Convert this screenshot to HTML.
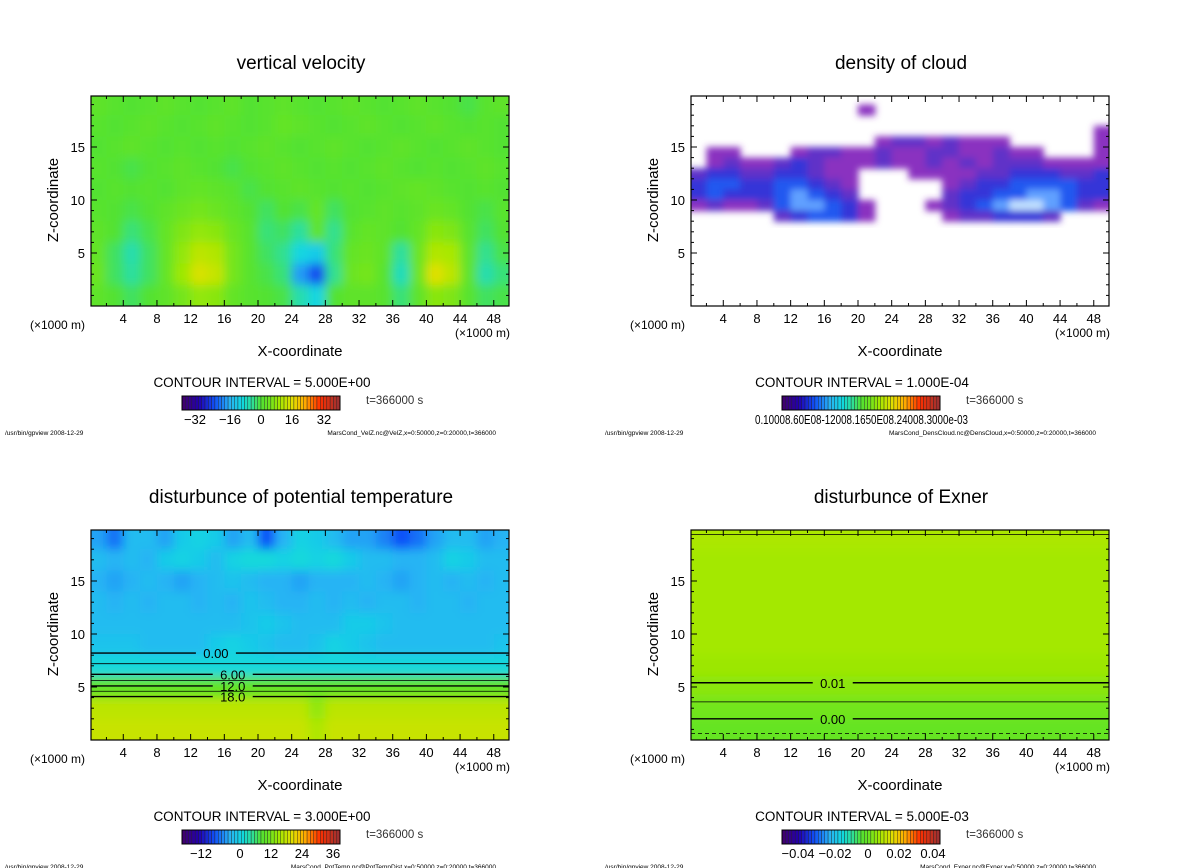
<!DOCTYPE html>
<html><head><meta charset="utf-8">
<style>
html,body{margin:0;padding:0;background:#fff;}
svg{display:block;font-family:"Liberation Sans",sans-serif;}
</style></head>
<body>
<svg id="page" width="1200" height="868" viewBox="0 0 1200 868" xmlns="http://www.w3.org/2000/svg">
<defs>
<filter id="blur6" x="-5%" y="-5%" width="110%" height="110%"><feGaussianBlur stdDeviation="5"/></filter>
<filter id="blur3" x="-5%" y="-5%" width="110%" height="110%"><feGaussianBlur stdDeviation="3.5"/></filter>
</defs>
</svg>
<script>
// ---------- data ----------
const xTickLabels = [4,8,12,16,20,24,28,32,36,40,44,48];
const zTickLabels = [5,10,15];
const titles = ["vertical velocity","density of cloud","disturbunce of potential temperature","disturbunce of Exner"];
const intervals = ["CONTOUR INTERVAL = 5.000E+00","CONTOUR INTERVAL = 1.000E-04","CONTOUR INTERVAL = 3.000E+00","CONTOUR INTERVAL = 5.000E-03"];
const footers = ["MarsCond_VelZ.nc@VelZ,x=0:50000,z=0:20000,t=366000","MarsCond_DensCloud.nc@DensCloud,x=0:50000,z=0:20000,t=366000","MarsCond_PotTemp.nc@PotTempDist,x=0:50000,z=0:20000,t=366000","MarsCond_Exner.nc@Exner,x=0:50000,z=0:20000,t=366000"];
const cbarLabelsVel = ["−32","−16","0","16","32"];
const cbarLabelsPT = ["−12","0","12","24","36"];
const cbarLabelsEx = ["−0.04","−0.02","0","0.02","0.04"];
const velRange = [-40,40];
const ptRange = [-20,40];
const exRange = [-0.05,0.05];

// vertical velocity (rows z=19..1, cols x=1..49)
const velZ = [
[2,1,0,1,2,1,0,1,2,0,1,2,1,0,1,2,1,0,1,2,1,0,-1,1,2],
[1,0,1,2,1,0,1,2,1,0,1,3,2,1,0,1,2,1,0,1,2,1,0,1,0],
[0,1,2,1,0,1,0,1,0,1,2,1,0,1,2,1,0,1,2,1,0,1,2,1,0],
[1,0,-1,0,1,2,1,0,-1,0,1,2,1,0,1,0,1,2,1,0,1,0,1,2,1],
[0,1,0,1,0,2,3,2,1,-1,0,1,2,1,0,1,0,1,2,3,2,1,0,1,0],
[1,0,-1,0,2,4,5,4,2,0,-2,0,-1,3,-2,0,1,2,1,2,4,3,0,-1,1],
[2,0,-3,-1,3,6,8,7,4,1,-3,-2,-5,2,-4,1,3,2,0,3,7,6,1,-2,0],
[3,-2,-6,-2,3,8,12,11,5,1,-2,-4,-10,-12,-3,3,4,2,-5,4,11,10,2,-4,-1],
[4,-2,-5,-2,3,9,15,13,5,1,-1,-3,-18,-25,-4,4,5,1,-7,4,16,12,2,-6,-3],
[2,0,-2,0,2,5,8,7,3,1,0,-1,-6,-10,0,2,2,1,-3,2,7,6,1,-2,-1]
];
// cloud density, units 1e-4 (rows z=19.5..0.5)
const cloud = [
[0,0,0,0,0,0,0,0,0,0,0,0,0,0,0,0,0,0,0,0,0,0,0,0,0],
[0,0,0,0,0,0,0,0,0,0,1,0,0,0,0,0,0,0,0,0,0,0,0,0,0],
[0,0,0,0,0,0,0,0,0,0,0,0,0,0,0,0,0,0,0,0,0,0,0,0,0],
[0,0,0,0,0,0,0,0,0,0,0,0,0,0,0,0,0,0,0,0,0,0,0,0,1],
[0,0,0,0,0,0,0,0,0,0,0,1,2,2,1,2,1,1,1,0,0,0,0,0,1],
[0,1,1,0,0,0,1,2,2,1,1,2,1,1,2,2,1,1,2,1,1,0,0,0,1],
[0,1,2,1,1,2,3,2,1,1,1,2,1,1,2,1,2,1,2,2,2,1,1,1,1],
[2,3,3,2,2,3,3,2,1,1,0,0,0,1,1,1,1,2,2,3,3,3,2,2,3],
[3,4,4,3,3,4,4,3,2,1,0,0,0,0,0,1,2,3,3,4,4,4,4,3,3],
[3,4,3,3,3,4,5,4,3,2,0,0,0,0,0,2,3,3,4,4,5,5,4,3,3],
[1,2,1,1,2,4,5,5,4,3,1,0,0,0,1,2,3,4,5,6,6,5,4,2,1],
[0,0,0,0,0,2,3,4,4,3,1,0,0,0,0,1,2,2,3,3,3,2,0,0,0],
[0,0,0,0,0,0,0,0,0,0,0,0,0,0,0,0,0,0,0,0,0,0,0,0,0],
[0,0,0,0,0,0,0,0,0,0,0,0,0,0,0,0,0,0,0,0,0,0,0,0,0],
[0,0,0,0,0,0,0,0,0,0,0,0,0,0,0,0,0,0,0,0,0,0,0,0,0],
[0,0,0,0,0,0,0,0,0,0,0,0,0,0,0,0,0,0,0,0,0,0,0,0,0],
[0,0,0,0,0,0,0,0,0,0,0,0,0,0,0,0,0,0,0,0,0,0,0,0,0],
[0,0,0,0,0,0,0,0,0,0,0,0,0,0,0,0,0,0,0,0,0,0,0,0,0],
[0,0,0,0,0,0,0,0,0,0,0,0,0,0,0,0,0,0,0,0,0,0,0,0,0],
[0,0,0,0,0,0,0,0,0,0,0,0,0,0,0,0,0,0,0,0,0,0,0,0,0]
];
// potential temperature disturbance (rows z=19..1)
const potT = [
[-3,-6,-1,-1,-3,1,2,1,-3,-1,-8,-2,2,1,-1,-3,-3,-5,-8,-6,-3,-1,-1,-3,-2],
[-1,-2,-1,-2,1,2,1,-1,2,3,3,2,3,2,3,1,-1,-1,-2,-2,-1,2,1,-1,-1],
[-2,-3,-2,-1,-2,-3,-2,-1,0,-1,-2,-2,-3,-2,-2,-2,-1,-2,-3,-2,-1,-2,-1,-2,-1],
[-1,-2,-1,-2,-1,-1,-2,-1,-2,0,-1,-2,-2,-1,-2,-1,-2,-1,-1,-2,-1,-1,-2,-1,-1],
[-1,-1,-1,-1,-1,-1,-1,-1,-1,0,1,0,-1,-1,-1,1,1,0,-1,-1,-1,-1,-1,-1,-1],
[0,0,0,-1,-1,-1,-1,1,2,1,0,-1,-1,0,2,1,0,-1,-1,-1,-1,-1,-1,-1,0],
[3,3,3,3,3,3,3,3,3,3,3,3,3,3,3,3,3,3,3,3,3,3,3,3,3],
[12,12,12,12,12,12,12,12,12,12,12,12,12,12,12,12,12,12,12,12,12,12,12,12,12],
[19,19,19,19,19,19,19,19,19,19,19,19,19,16,19,19,19,19,19,19,19,19,19,19,19],
[20,20,20,20,20,20,20,20,20,20,20,20,20,18,20,20,20,20,20,20,20,20,20,20,20]
];
// Exner disturbance (rows z=19..1)
const exner = [
[0.013,0.013,0.013,0.013,0.013,0.013,0.013,0.013,0.013,0.013,0.013,0.013,0.013,0.013,0.013,0.013,0.013,0.013,0.013,0.013,0.013,0.013,0.013,0.013,0.013],
[0.012,0.012,0.012,0.012,0.012,0.012,0.012,0.012,0.012,0.012,0.012,0.012,0.012,0.012,0.012,0.012,0.012,0.012,0.012,0.012,0.012,0.012,0.012,0.012,0.012],
[0.012,0.012,0.012,0.012,0.012,0.012,0.012,0.012,0.012,0.012,0.012,0.012,0.012,0.012,0.012,0.012,0.012,0.012,0.012,0.012,0.012,0.012,0.012,0.012,0.012],
[0.012,0.012,0.012,0.012,0.012,0.012,0.012,0.012,0.012,0.012,0.012,0.012,0.012,0.012,0.012,0.012,0.012,0.012,0.012,0.012,0.012,0.012,0.012,0.012,0.012],
[0.012,0.012,0.012,0.012,0.012,0.012,0.012,0.012,0.012,0.012,0.012,0.012,0.012,0.012,0.012,0.012,0.012,0.012,0.012,0.012,0.012,0.012,0.012,0.012,0.012],
[0.012,0.012,0.012,0.012,0.012,0.012,0.012,0.012,0.012,0.012,0.012,0.012,0.012,0.012,0.012,0.012,0.012,0.012,0.012,0.012,0.012,0.012,0.012,0.012,0.012],
[0.011,0.011,0.011,0.011,0.011,0.011,0.011,0.011,0.011,0.011,0.011,0.011,0.011,0.011,0.011,0.011,0.011,0.011,0.011,0.011,0.011,0.011,0.011,0.011,0.011],
[0.009,0.009,0.009,0.009,0.009,0.009,0.009,0.009,0.009,0.009,0.009,0.009,0.009,0.009,0.009,0.009,0.009,0.009,0.009,0.009,0.009,0.009,0.009,0.009,0.009],
[0.006,0.006,0.006,0.006,0.006,0.006,0.006,0.006,0.006,0.006,0.006,0.006,0.006,0.006,0.006,0.006,0.006,0.006,0.006,0.006,0.006,0.006,0.006,0.006,0.006],
[0.004,0.004,0.004,0.004,0.004,0.004,0.004,0.004,0.004,0.004,0.004,0.004,0.004,0.004,0.004,0.004,0.004,0.004,0.004,0.004,0.004,0.004,0.004,0.004,0.004]
];
// contour heights (km) of horizontal contour lines, label x (km)
const ptContourZ = [8.2, 7.2, 6.2, 5.6, 5.1, 4.6, 4.1];
const ptContourLabels = ["0.00","","6.00","","12.0","","18.0"];
const ptLabelX = [15, 0, 17, 0, 17, 0, 17];
const exContourZ = [19.4, 5.4, 3.6, 2.0];
const exContourLabels = ["","0.01","","0.00"];
const exLabelX = [0, 17, 0, 17];
const exDashedZ = [0.6];

// ---------- helpers ----------
const NS="http://www.w3.org/2000/svg";
const svg=document.getElementById('page');
const X0=89.6, XS=8.42, ZS=10.6;
function sx(ox,x){return ox+X0+XS*x;}
function sz(oy,z){return oy+306-ZS*z;}
const stops=[[0,"#400070"],[0.1,"#2000b0"],[0.2,"#1050f8"],[0.3,"#28b4f4"],[0.38,"#10d8e0"],[0.45,"#30e090"],[0.5,"#52e232"],[0.55,"#6ae420"],[0.62,"#a4e800"],[0.7,"#e0e000"],[0.78,"#ffb000"],[0.88,"#ff3000"],[1,"#a03030"]];
function hx(h){return [parseInt(h.substr(1,2),16),parseInt(h.substr(3,2),16),parseInt(h.substr(5,2),16)];}
function cmap(t){t=Math.max(0,Math.min(1,t));for(let i=1;i<stops.length;i++){if(t<=stops[i][0]){const a=stops[i-1],b=stops[i];const f=(t-a[0])/(b[0]-a[0]);const ca=hx(a[1]),cb=hx(b[1]);return "rgb("+ca.map((v,k)=>Math.round(v+(cb[k]-v)*f)).join(",")+")";}}return stops[stops.length-1][1];}
const cloudColors=["#ffffff","#8a30c0","#6030c8","#3434d8","#2058f0","#60a0ff","#c0e0ff"];
function mk(tag,attrs,parent){const e=document.createElementNS(NS,tag);for(const k in attrs)e.setAttribute(k,attrs[k]);(parent||svg).appendChild(e);return e;}
function txt(s,attrs,parent){const e=mk('text',attrs,parent);e.textContent=s;return e;}

function heat(ox,oy,data,dz,colorFn,blurId,name,idx){
  const clip=mk('clipPath',{id:'clip'+idx});
  mk('rect',{x:ox+91,y:oy+96,width:418,height:210},clip);
  const outer=mk('g',{'clip-path':'url(#clip'+idx+')'});
  
  
  const inner=mk('g',{filter:'url(#'+blurId+')'},outer);
  const nr=data.length, nc=data[0].length;
  for(let i=0;i<nr;i++){for(let j=0;j<nc;j++){
    const c=colorFn(data[i][j]); if(!c) continue;
    let x1=sx(ox,2*j), x2=sx(ox,2*j+2);
    let zt=20-i*dz, zb=zt-dz;
    let y1=sz(oy,zt), y2=sz(oy,zb);
    if(j===0)x1-=12; if(j===nc-1)x2+=12; if(i===0)y1-=12; if(i===nr-1)y2+=12;
    const r=mk('rect',{x:x1.toFixed(1),y:y1.toFixed(1),width:(x2-x1+0.6).toFixed(1),height:(y2-y1+0.6).toFixed(1),fill:c},inner);
    
    
  }}
}

function panel(idx,ox,oy,cbLabels,cbLabelPos,cbColorFn){
  const g=mk('g',{});
  
  
  const t=txt(titles[idx],{x:ox+301,y:oy+69,'font-size':19,'text-anchor':'middle',fill:'#000'},g);
  
  
  const fr=mk('rect',{x:ox+91,y:oy+96,width:418,height:210,fill:'none',stroke:'#000','stroke-width':1.2},g);
  
  
  for(let x=2;x<50;x+=2){
    const len=(x%4===0)?6:3;
    mk('line',{x1:sx(ox,x),x2:sx(ox,x),y1:oy+306,y2:oy+306-len,stroke:'#000','stroke-width':1},g);
    mk('line',{x1:sx(ox,x),x2:sx(ox,x),y1:oy+96,y2:oy+96+len,stroke:'#000','stroke-width':1},g);
  }
  xTickLabels.forEach(v=>{
    const l=txt(String(v),{x:sx(ox,v),y:oy+323,'font-size':13,'text-anchor':'middle'},g);
    
    
  });
  for(let z=1;z<20;z++){
    const len=(z%5===0)?6:3;
    mk('line',{x1:ox+91,x2:ox+91+len,y1:sz(oy,z),y2:sz(oy,z),stroke:'#000','stroke-width':1},g);
    mk('line',{x1:ox+509,x2:ox+509-len,y1:sz(oy,z),y2:sz(oy,z),stroke:'#000','stroke-width':1},g);
  }
  zTickLabels.forEach(v=>{
    const l=txt(String(v),{x:ox+85,y:sz(oy,v)+5,'font-size':13,'text-anchor':'end'},g);
    
    
  });
  const u1=txt("(×1000 m)",{x:ox+30,y:oy+329,'font-size':12},g);
  
  
  const u2=txt("(×1000 m)",{x:ox+455,y:oy+337,'font-size':12},g);
  
  
  const xt=txt("X-coordinate",{x:ox+300,y:oy+356,'font-size':15,'text-anchor':'middle'},g);
  
  
  const yt=txt("Z-coordinate",{x:0,y:0,'font-size':15,'text-anchor':'middle',transform:'translate('+(ox+58)+','+(oy+200)+') rotate(-90)'},g);
  
  
  const ci=txt(intervals[idx],{x:ox+262,y:oy+387,'font-size':13.5,'text-anchor':'middle'},g);
  
  
  const cb=mk('g',{},g);
  
  
  const n=48, w=158/n;
  for(let i=0;i<n;i++){
    mk('rect',{x:(ox+182+i*w).toFixed(2),y:oy+396,width:w.toFixed(2),height:14,fill:cbColorFn(i/(n-1)),stroke:'#222','stroke-width':0.4},cb);
  }
  mk('rect',{x:ox+182,y:oy+396,width:158,height:14,fill:'none',stroke:'#000','stroke-width':1},cb);
  cbLabels.forEach((s,k)=>{
    const l=txt(s,{x:ox+cbLabelPos[k],y:oy+424,'font-size':13,'text-anchor':'middle'},cb);
    
    
  });
  const tt=txt("t=366000 s",{x:ox+366,y:oy+404,'font-size':11.5,fill:'#333'},g);
  
  
  const f1=txt("/usr/bin/gpview   2008-12-29",{x:ox+5,y:oy+435,'font-size':6.5,'xml:space':'preserve'},g);
  
  
  const f2=txt(footers[idx],{x:ox+496,y:oy+435,'font-size':6.5,'text-anchor':'end'},g);
  
  
  return g;
}

function hline(ox,oy,z,label,lx,dashed,name){
  const y=sz(oy,z);
  const st={stroke:'#000','stroke-width':label?1.4:0.8,'stroke-dasharray':dashed?'4,3':'none'};
  if(label){
    const cx=sx(ox,lx);
    const a=mk('line',Object.assign({x1:ox+91,x2:cx-20,y1:y,y2:y},st));
    
    
    const b=mk('line',Object.assign({x1:cx+20,x2:ox+509,y1:y,y2:y},st));
    
    
    const tl=txt(label,{x:cx,y:y+5,'font-size':13,'text-anchor':'middle',fill:'#000'});
    
    
  } else {
    const l=mk('line',Object.assign({x1:ox+91,x2:ox+509,y1:y,y2:y},st));
    
    
  }
}

// ---------- draw ----------
heat(0,0,velZ,2,v=>cmap((v-velRange[0])/(velRange[1]-velRange[0])),'blur6','vertical-velocity',0);
heat(600,0,cloud,1,v=>v>0?cloudColors[Math.min(6,v)]:null,'blur3','cloud-density',1);
heat(0,434,potT,2,v=>cmap((v-ptRange[0])/(ptRange[1]-ptRange[0])),'blur6','potential-temperature',2);
heat(600,434,exner,2,v=>cmap((v-exRange[0])/(exRange[1]-exRange[0])),'blur6','exner',3);

ptContourZ.forEach((z,k)=>hline(0,434,z,ptContourLabels[k],ptLabelX[k],false,'pt-contour-line'));
exContourZ.forEach((z,k)=>hline(600,434,z,exContourLabels[k],exLabelX[k],false,'exner-contour-line'));
exDashedZ.forEach(z=>hline(600,434,z,"",0,true,'exner-dashed-contour'));

panel(0,0,0,cbarLabelsVel,[195,230,261,292,324],t=>cmap(t));
panel(1,600,0,[],[],t=>cmap(t));
panel(2,0,434,cbarLabelsPT,[201,240,271,302,333],t=>cmap(t));
panel(3,600,434,cbarLabelsEx,[198,235,268,299,333],t=>cmap(t));
const cl=txt("0.10008.60E08-12008.1650E08.24008.3000e-03",{x:755,y:424,'font-size':13,textLength:213,lengthAdjust:'spacingAndGlyphs'});


</script>
</body></html>
